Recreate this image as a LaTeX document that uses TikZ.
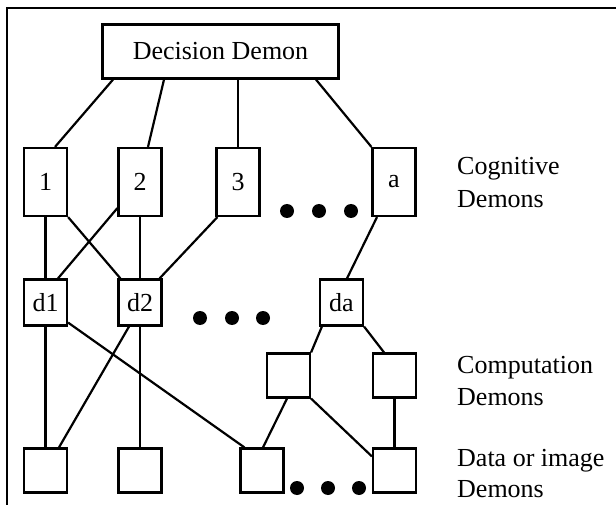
\documentclass[tikz,border=0pt]{standalone}
\usepackage{fontspec}
\setmainfont{Liberation Serif}
\usetikzlibrary{calc}
\begin{document}
\begin{tikzpicture}[x=1pt,y=-1pt,
  demon/.style={draw,line width=2.2pt,inner sep=0pt,font=\fontsize{26}{31}\selectfont},
  cogbox/.style={demon,minimum width=43pt,minimum height=68pt},
  sqbox/.style={demon,minimum width=43pt,minimum height=44pt},
  link/.style={line width=2.2pt},
  lbl/.style={anchor=base west,inner sep=0pt,font=\fontsize{26}{31}\selectfont},
  dot/.style={circle,fill=black,inner sep=0pt,minimum size=14pt}]
\useasboundingbox (0,0) rectangle (616,505);
% frame
\draw[line width=1.3pt] (7,505) -- (7,8) -- (616,8);
% nodes
\node[demon,minimum width=236pt,minimum height=54pt] (dd) at (220.5,51.5) {Decision Demon};
\node[cogbox] (c1) at (45.5,182) {1};
\node[cogbox] (c2) at (140,182) {2};
\node[cogbox] (c3) at (238,182) {3};
\node[cogbox] (ca) at (394,182) {a};
\node[sqbox,minimum height=46pt] (d1) at (45.5,302.5) {d1};
\node[sqbox,minimum height=46pt] (d2) at (140,302.5) {d2};
\node[sqbox,minimum height=46pt] (da) at (341.5,302.5) {da};
\node[sqbox] (p1) at (288.5,375.5) {};
\node[sqbox] (p2) at (394.5,375.5) {};
\node[sqbox] (i1) at (45.5,470.5) {};
\node[sqbox] (i2) at (140,470.5) {};
\node[sqbox] (i3) at (262,470.5) {};
\node[sqbox] (i4) at (394.5,470.5) {};
% dots
\foreach \x/\n in {287/a,319/b,351/c} \node[dot] (r1\n) at (\x,211) {};
\foreach \x/\n in {200/a,232/b,263/c} \node[dot] (r2\n) at (\x,318) {};
\foreach \x/\n in {297/a,328/b,359/c} \node[dot] (r3\n) at (\x,488) {};
% labels
\node[lbl] (l1a) at (457,175) {Cognitive};
\node[lbl] (l1b) at (457,208) {Demons};
\node[lbl] (l2a) at (457,373) {Computation};
\node[lbl] (l2b) at (457,405) {Demons};
\node[lbl] (l3a) at (457,466) {Data or image};
\node[lbl] (l3b) at (457,497) {Demons};
% connectors: decision -> cognitive
\draw[link] ([xshift=-107.5pt]dd.south) -- ([xshift=9.5pt]c1.north);
\draw[link] ([xshift=-56.5pt]dd.south) -- ([xshift=8pt]c2.north);
\draw[link] ([xshift=17.5pt]dd.south) -- (c3.north);
\draw[link] ([xshift=95.5pt]dd.south) -- (ca.north west);
% cognitive -> d row
\draw[link] (c1.south) -- (d1.north);
\draw[link] (c1.south east) -- ([xshift=3pt]d2.north west);
\draw[link] ([yshift=9pt]c2.south west) -- ([xshift=12.5pt]d1.north);
\draw[link] (c2.south) -- (d2.north);
\draw[link] ([xshift=2pt]c3.south west) -- ([xshift=-3pt]d2.north east);
\draw[link] ([xshift=-17pt]ca.south) -- ([xshift=5.5pt]da.north);
% d row -> data / computation
\draw[link] (d1.south) -- (i1.north);
\draw[link] ([yshift=4pt]d1.south east) -- ([xshift=5pt]i3.north west);
\draw[link] ([xshift=-11pt]d2.south) -- ([xshift=13.5pt]i1.north);
\draw[link] (d2.south) -- (i2.north);
\draw[link] ([xshift=3pt]da.south west) -- (p1.north east);
\draw[link] (da.south east) -- ([xshift=-10.5pt]p2.north);
% computation -> data
\draw[link] ([xshift=-1.5pt]p1.south) -- ([xshift=1pt]i3.north);
\draw[link] (p1.south east) -- ([yshift=-9pt]i4.north west);
\draw[link] (p2.south) -- (i4.north);
\end{tikzpicture}
\end{document}
